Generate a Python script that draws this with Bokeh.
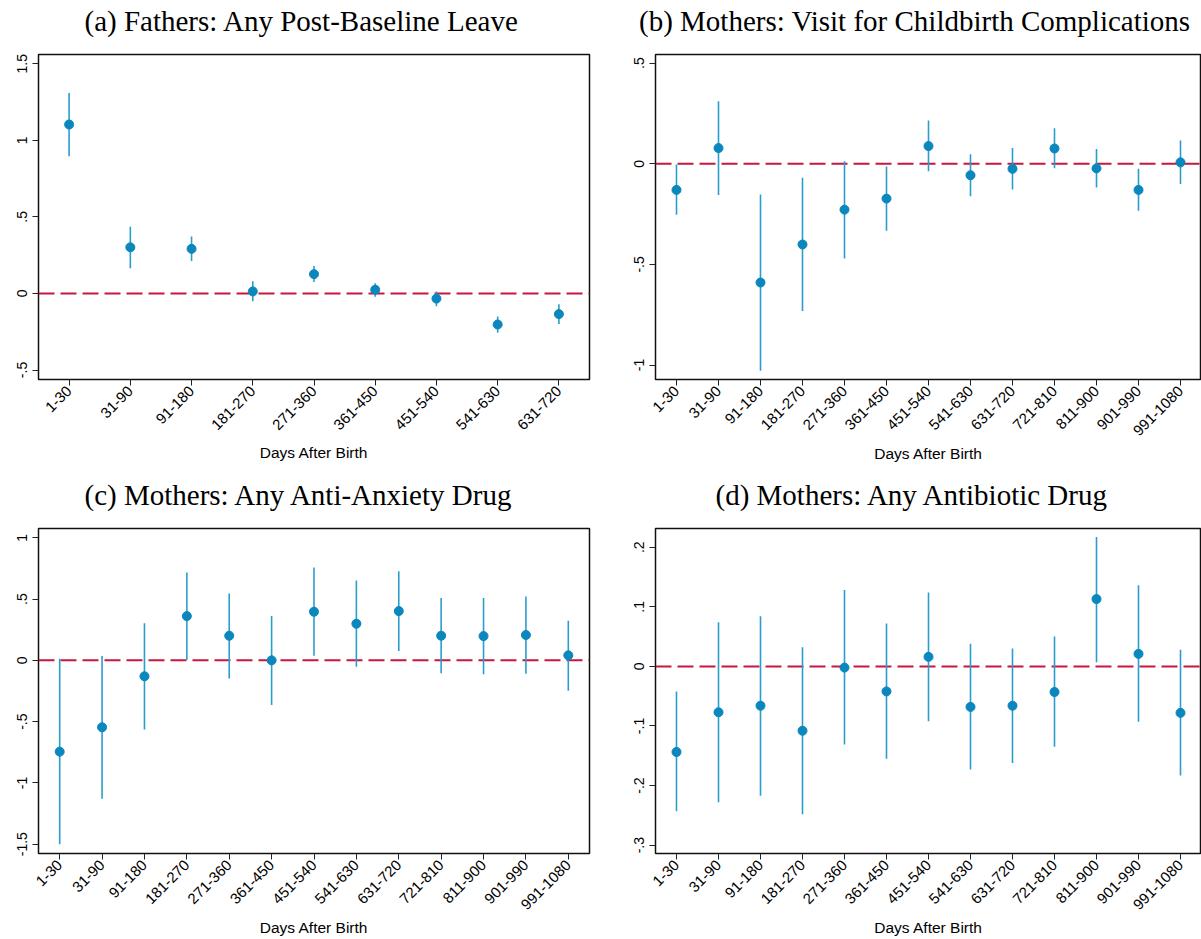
import math
from bokeh.plotting import figure
from bokeh.models import FactorRange, Range1d, FixedTicker, Span, Title, ColumnDataSource
from bokeh.layouts import column, row
from bokeh.embed import file_html
from bokeh.resources import INLINE

# ---------------- data ----------------
days_a = ["1-30", "31-90", "91-180", "181-270", "271-360", "361-450",
          "451-540", "541-630", "631-720"]
days_long = days_a + ["721-810", "811-900", "901-990", "991-1080"]

# (a) Fathers: Any Post-Baseline Leave
a_est = [1.103, 0.301, 0.291, 0.013, 0.126, 0.024, -0.034, -0.203, -0.135]
a_lo = [0.895, 0.165, 0.212, -0.051, 0.075, -0.021, -0.083, -0.256, -0.199]
a_hi = [1.308, 0.436, 0.372, 0.079, 0.179, 0.066, 0.013, -0.150, -0.071]
a_ticks = [-0.5, 0.0, 0.5, 1.0, 1.5]
a_tick_labels = ["-.5", "0", ".5", "1", "1.5"]

# (b) Mothers: Visit for Childbirth Complications
b_est = [-0.130, 0.078, -0.590, -0.401, -0.228, -0.173, 0.088, -0.057,
         -0.025, 0.076, -0.023, -0.130, 0.007]
b_lo = [-0.253, -0.155, -1.028, -0.732, -0.471, -0.333, -0.037, -0.161,
        -0.128, -0.022, -0.118, -0.234, -0.101]
b_hi = [-0.003, 0.311, -0.153, -0.070, 0.013, -0.013, 0.215, 0.047,
        0.078, 0.176, 0.073, -0.025, 0.116]
b_ticks = [-1.0, -0.5, 0.0, 0.5]
b_tick_labels = ["-1", "-.5", "0", ".5"]

# (c) Mothers: Any Anti-Anxiety Drug
c_est = [-0.745, -0.546, -0.130, 0.361, 0.201, 0.000, 0.397, 0.299,
         0.402, 0.201, 0.198, 0.207, 0.041]
c_lo = [-1.500, -1.130, -0.565, 0.003, -0.149, -0.364, 0.038, -0.052,
        0.076, -0.106, -0.114, -0.109, -0.247]
c_hi = [0.014, 0.035, 0.302, 0.717, 0.546, 0.361, 0.758, 0.652,
        0.728, 0.508, 0.508, 0.522, 0.323]
c_ticks = [-1.5, -1.0, -0.5, 0.0, 0.5, 1.0]
c_tick_labels = ["-1.5", "-1", "-.5", "0", ".5", "1"]

# (d) Mothers: Any Antibiotic Drug
d_est = [-0.1436, -0.077, -0.066, -0.108, -0.002, -0.042, 0.016, -0.068,
         -0.066, -0.043, 0.113, 0.021, -0.078]
d_lo = [-0.243, -0.228, -0.217, -0.248, -0.131, -0.155, -0.092, -0.173,
        -0.162, -0.135, 0.007, -0.093, -0.183]
d_hi = [-0.042, 0.074, 0.084, 0.032, 0.128, 0.072, 0.124, 0.038,
        0.030, 0.050, 0.217, 0.136, 0.028]
d_ticks = [-0.3, -0.2, -0.1, 0.0, 0.1, 0.2]
d_tick_labels = ["-.3", "-.2", "-.1", "0", ".1", ".2"]

titles = ["(a) Fathers: Any Post-Baseline Leave",
          "(b) Mothers: Visit for Childbirth Complications",
          "(c) Mothers: Any Anti-Anxiety Drug",
          "(d) Mothers: Any Antibiotic Drug"]
x_title = "Days After Birth"

# ---------------- style ----------------
DOT = "#0a87bd"
BAR = "#2b9dcc"
RED = "#c8163f"
SANS = "Liberation Sans"
SERIF = "Liberation Serif"


def make_panel(cats, est, lo, hi, ticks, tick_labels, yr, title,
               width, height, bl, br, bt, bb, toff, xlab_standoff):
    p = figure(width=width, height=height,
               x_range=FactorRange(*cats), y_range=Range1d(*yr),
               output_backend="svg", toolbar_location=None, tools="",
               min_border_left=bl, min_border_right=br,
               min_border_top=bt, min_border_bottom=bb)
    p.background_fill_color = "white"
    p.border_fill_color = "white"
    p.outline_line_color = "#111111"
    p.outline_line_width = 1.5
    p.xgrid.visible = False
    p.ygrid.visible = False

    # spacer between frame and title, then the title itself
    p.add_layout(Title(text=" ", text_font=SERIF, text_font_size="12px",
                       standoff=0), "above")
    p.add_layout(Title(text=title, text_font=SERIF, text_font_size="29px",
                       text_font_style="normal", text_color="black",
                       align="left", offset=toff, standoff=4), "above")

    zero = Span(location=0, dimension="width", line_color=RED,
                line_width=2, line_dash="16 6", level="underlay")
    p.add_layout(zero)

    src = ColumnDataSource(dict(x=cats, y=est, lo=lo, hi=hi))
    p.segment(x0="x", y0="lo", x1="x", y1="hi", source=src,
              line_color=BAR, line_width=1.6)
    p.scatter(x="x", y="y", source=src, size=9,
              fill_color=DOT, line_color=DOT)

    xa = p.xaxis[0]
    xa.axis_label = x_title
    xa.axis_label_text_font = SANS
    xa.axis_label_text_font_size = "15.5px"
    xa.axis_label_text_font_style = "normal"
    xa.axis_label_text_color = "black"
    xa.axis_label_standoff = xlab_standoff
    xa.major_label_text_font = SANS
    xa.major_label_text_font_size = "15px"
    xa.major_label_text_color = "black"
    xa.major_label_orientation = math.pi / 4
    xa.major_label_standoff = 3
    xa.major_tick_out = 6
    xa.major_tick_in = 0
    xa.major_tick_line_color = "#222222"
    xa.axis_line_color = None

    ya = p.yaxis[0]
    ya.ticker = FixedTicker(ticks=ticks)
    ya.major_label_overrides = dict(zip(ticks, tick_labels))
    ya.major_label_orientation = "vertical"
    ya.major_label_text_font = SANS
    ya.major_label_text_font_size = "14px"
    ya.major_label_text_color = "black"
    ya.major_label_standoff = 5
    ya.major_tick_out = 6
    ya.major_tick_in = 0
    ya.major_tick_line_color = "#222222"
    ya.minor_tick_line_color = None
    ya.axis_line_color = None
    return p


pa = make_panel(days_a, a_est, a_lo, a_hi, a_ticks, a_tick_labels,
                (-0.562, 1.56), titles[0], 600, 470, 38, 11, 54, 85, 46, 7)
pb = make_panel(days_long, b_est, b_lo, b_hi, b_ticks, b_tick_labels,
                (-1.072, 0.543), titles[1], 601, 470, 55, 0, 54, 91, -16.5, 2)
pc = make_panel(days_long, c_est, c_lo, c_hi, c_ticks, c_tick_labels,
                (-1.576, 1.076), titles[2], 600, 469, 38, 11, 58, 85, 46, 2)
pd = make_panel(days_long, d_est, d_lo, d_hi, d_ticks, d_tick_labels,
                (-0.314, 0.2314), titles[3], 601, 469, 55, 0, 58, 85, 60, 2)

layout = column(row(pa, pb), row(pc, pd))

with open("out.html", "w") as f:
    f.write(file_html(layout, INLINE))
